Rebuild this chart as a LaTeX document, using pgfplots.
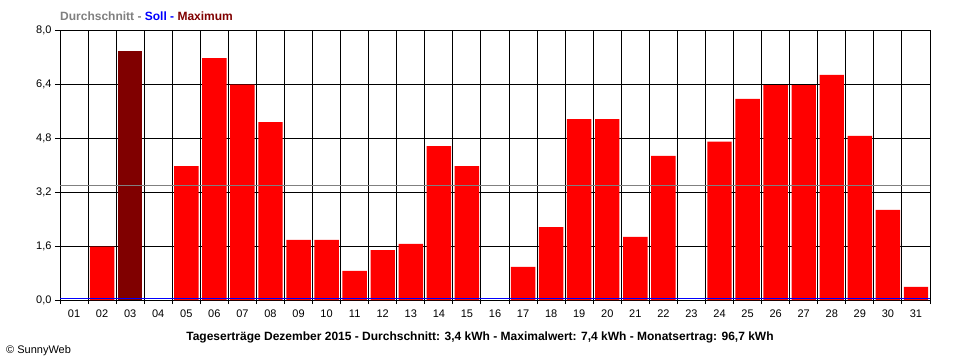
\documentclass[border=0pt]{standalone}
\usepackage{pgfplots}
\pgfplotsset{compat=1.18}
\usepackage{fontspec}
\setmainfont{Liberation Sans}
\definecolor{sred}{HTML}{FF0000}
\definecolor{smax}{HTML}{800000}
\definecolor{ssoll}{HTML}{0000FF}
\definecolor{savg}{HTML}{808080}
\begin{document}
\begin{tikzpicture}[x=1pt,y=1pt]
\useasboundingbox (0,0) rectangle (960,360);
\fill[white] (0,0) rectangle (960,360);
\begin{axis}[
  at={(60pt,60pt)}, anchor=south west,
  width=870pt, height=270pt, scale only axis,
  xmin=0.5, xmax=31.5, ymin=0, ymax=8,
  xtick={1,...,31},
  xticklabels={01,02,03,04,05,06,07,08,09,10,11,12,13,14,15,16,17,18,19,20,21,22,23,24,25,26,27,28,29,30,31},
  minor xtick={0.5,1.5,2.5,3.5,4.5,5.5,6.5,7.5,8.5,9.5,10.5,11.5,12.5,13.5,14.5,15.5,16.5,17.5,18.5,19.5,20.5,21.5,22.5,23.5,24.5,25.5,26.5,27.5,28.5,29.5,30.5,31.5},
  major x tick style={draw=none},
  xminorgrids, ymajorgrids,
  minor grid style={black, line width=1pt},
  major grid style={black, line width=1pt},
  ytick={0,1.6,3.2,4.8,6.4,8},
  yticklabels={0{,}0,1{,}6,3{,}2,4{,}8,6{,}4,8{,}0},
  xtick pos=bottom, ytick pos=left,
  tick align=outside,
  major tick length=5pt, minor tick length=4pt,
  tick style={black, line width=1pt},
  axis line style={black, line width=1pt},
  xticklabel style={font=\fontsize{11}{13}\selectfont, yshift=-1pt},
  yticklabel style={font=\fontsize{11}{13}\selectfont},
]
\addplot[ybar, bar width=0.87, bar shift=0pt, fill=sred, draw=none] coordinates {
(2,1.58) (5,3.97) (6,7.17) (7,6.38) (8,5.27) (9,1.78) (10,1.78)
(11,0.86) (12,1.48) (13,1.66) (14,4.56) (15,3.97) (17,0.98) (18,2.16)
(19,5.36) (20,5.36) (21,1.87) (22,4.27) (24,4.69) (25,5.96) (26,6.37)
(27,6.37) (28,6.67) (29,4.86) (30,2.67) (31,0.39)
};
\addplot[ybar, bar width=0.87, bar shift=0pt, fill=smax, draw=none] coordinates {(3,7.38)};
\addplot[savg, line width=1pt] coordinates {(0.5,3.4) (31.5,3.4)};
\addplot[ssoll, line width=1pt] coordinates {(0.5,0.05) (31.5,0.05)};
\end{axis}
\node[anchor=base west, inner sep=0pt, font=\bfseries\fontsize{12}{14}\selectfont] at (60,339.5)
  {\textcolor{savg}{Durchschnitt - }\textcolor{ssoll}{Soll - }\textcolor{smax}{Maximum}};
\node[anchor=base, inner sep=0pt, font=\bfseries\fontsize{12}{14}\selectfont] at (480,20)
  {Tageserträge Dezember 2015 - Durchschnitt: 3,4 kWh - Maximalwert: 7,4 kWh - Monatsertrag: 96,7 kWh};
\node[anchor=base west, inner sep=0pt, font=\fontsize{11}{13}\selectfont] at (6,7)
  {© SunnyWeb};
\end{tikzpicture}
\end{document}
